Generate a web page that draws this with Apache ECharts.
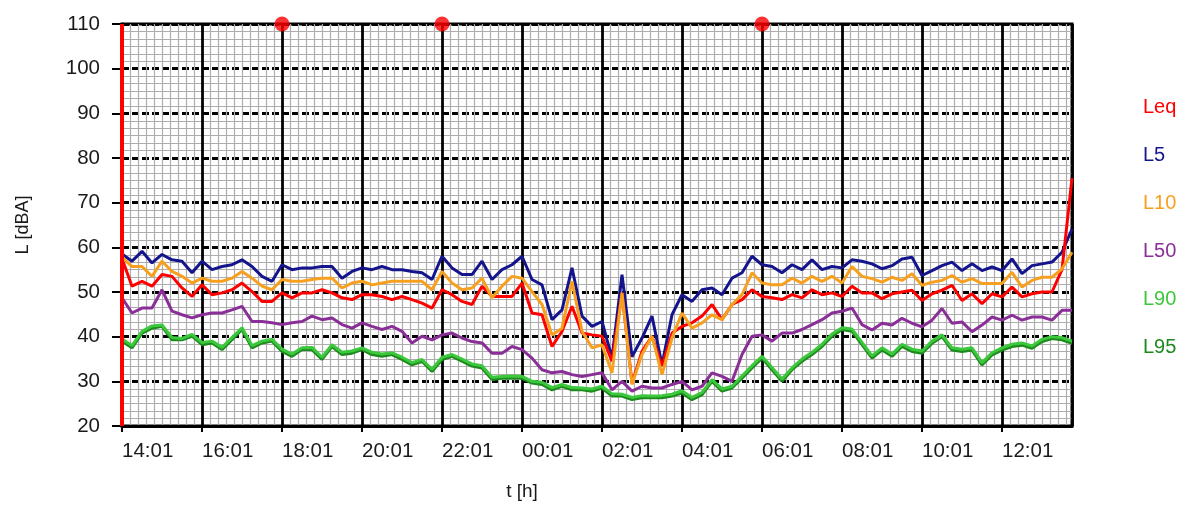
<!DOCTYPE html>
<html>
<head>
<meta charset="utf-8">
<script src="https://cdn.jsdelivr.net/npm/echarts@6/dist/echarts.min.js"></script>
<style>
html, body { margin: 0; padding: 0; background: #fff; }
#chart { width: 1187px; height: 506px; }
</style>
</head>
<body>
<div id="chart"></div>
<script>
// 15-minute samples, index 0 = 14:01
var timeLabels = ['14:01', '16:01', '18:01', '20:01', '22:01', '00:01', '02:01', '04:01', '06:01', '08:01', '10:01', '12:01'];
var yTicks = [20, 30, 40, 50, 60, 70, 80, 90, 100, 110];
var eventIdx = [16, 32, 64];

var leq = [57.5, 51.3, 52.4, 51.3, 53.9, 53.5, 50.9, 49.0, 51.6, 49.4, 49.8, 50.5, 52.0, 50.1, 47.9, 47.9, 49.8, 48.7, 49.8,
  49.8, 50.5, 49.8, 48.7, 48.3, 49.4, 49.4, 49.0, 48.3, 49.0, 48.3, 47.5, 46.4, 50.5, 49.4, 47.9, 47.2, 51.3, 49.0,
  49.0, 49.0, 52.0, 45.3, 44.9, 37.8, 41.2, 46.8, 40.8, 40.4, 40.1, 34.5, 49.8, 29.6, 36.7, 40.1, 33.4, 40.8, 42.3,
  43.1, 44.6, 47.2, 43.8, 47.2, 48.3, 50.5, 49.0, 48.7, 48.3, 49.4, 48.7, 50.5, 49.4, 49.8, 49.0, 51.3, 49.8,
  49.8, 48.5, 49.6, 50.0, 50.4, 48.1, 49.6, 50.4, 51.5, 48.1, 49.6, 47.4, 49.6, 48.9, 51.1, 48.9, 49.6, 50.0, 50.0, 55.0, 75.5];

var l5 = [58.5, 56.9, 59.1, 56.5, 58.4, 57.2, 56.9, 54.3, 56.9, 55.0, 55.7, 56.1, 57.2, 55.7, 53.5, 52.4, 56.1, 55.0, 55.4,
  55.4, 55.7, 55.7, 53.1, 54.6, 55.4, 55.0, 55.7, 55.0, 55.0, 54.6, 54.3, 52.8, 58.0, 55.4, 53.9, 53.9, 56.9, 52.8,
  55.0, 56.1, 58.0, 52.8, 51.6, 43.8, 46.0, 55.4, 44.6, 42.3, 43.4, 35.2, 53.9, 35.5, 39.7, 44.6, 33.7, 44.9, 49.4,
  47.9, 50.5, 50.9, 49.4, 53.1, 54.3, 58.0, 56.1, 55.7, 54.3, 56.1, 55.0, 57.2, 55.0, 55.7, 55.4, 57.2, 56.9,
  56.3, 55.2, 55.9, 57.4, 57.8, 53.7, 54.8, 55.9, 56.7, 54.8, 56.3, 54.8, 55.6, 54.8, 57.4, 54.1, 55.9, 56.3, 56.7, 58.9, 64.1];

var l10 = [57.8, 55.7, 55.7, 53.5, 56.9, 54.6, 53.5, 52.0, 53.1, 52.4, 52.4, 53.1, 54.6, 53.1, 51.3, 50.5, 52.8, 52.4, 52.4,
  52.8, 53.1, 53.1, 50.9, 52.0, 52.4, 51.6, 52.0, 52.4, 52.4, 52.4, 52.4, 50.5, 54.6, 52.0, 50.5, 50.9, 53.1, 48.7,
  51.3, 53.5, 53.1, 50.1, 47.2, 40.4, 41.9, 52.4, 41.2, 37.5, 38.2, 31.9, 49.8, 29.3, 36.0, 40.1, 31.5, 39.7, 45.3,
  41.9, 43.1, 44.9, 43.8, 47.2, 49.4, 54.3, 52.0, 51.6, 51.6, 53.1, 52.0, 53.5, 52.4, 53.5, 52.0, 55.7, 53.5,
  53.0, 52.2, 53.3, 52.6, 54.1, 51.5, 52.2, 52.6, 53.7, 52.2, 53.0, 51.9, 51.9, 51.9, 54.4, 51.1, 52.6, 53.3, 53.3, 55.2, 58.9];

var l50 = [48.7, 45.3, 46.4, 46.4, 50.5, 45.7, 44.9, 44.2, 44.9, 45.3, 45.3, 46.0, 46.8, 43.4, 43.4, 43.1, 42.7, 43.1, 43.4,
  44.6, 43.8, 44.2, 42.7, 41.9, 43.1, 42.3, 41.6, 42.3, 41.2, 38.6, 40.1, 39.3, 40.4, 40.8, 39.7, 38.9, 38.6, 36.3,
  36.3, 37.8, 37.1, 35.2, 32.6, 31.9, 32.2, 31.5, 31.1, 31.5, 31.9, 28.1, 30.0, 27.8, 28.9, 28.5, 28.5, 29.3, 30.0,
  28.1, 28.9, 31.9, 31.1, 30.0, 36.0, 40.1, 40.4, 39.0, 40.8, 40.8, 41.6, 42.7, 43.8, 45.3, 45.7, 46.4, 42.7,
  41.5, 43.0, 42.6, 44.1, 43.0, 42.2, 43.7, 46.3, 43.0, 43.3, 41.1, 42.6, 44.4, 43.7, 44.8, 43.7, 44.4, 44.4, 43.7, 45.9, 45.9];

var l90 = [39.5, 38.0, 41.2, 42.4, 42.6, 39.8, 39.6, 40.5, 38.7, 39.0, 37.6, 39.8, 42.0, 38.0, 39.0, 39.4, 37.2, 36.1, 37.5,
  37.6, 35.4, 38.2, 36.5, 36.8, 37.5, 36.5, 36.1, 36.4, 35.4, 34.2, 34.9, 32.7, 35.4, 36.0, 35.0, 33.9, 33.5, 30.9,
  31.1, 31.2, 31.1, 30.0, 29.8, 28.6, 29.3, 28.6, 28.5, 28.3, 28.9, 27.2, 27.1, 26.4, 26.8, 26.7, 26.8, 27.1, 27.9,
  26.4, 27.5, 30.4, 28.3, 28.9, 31.2, 33.5, 35.6, 33.1, 30.5, 33.0, 35.0, 36.5, 38.3, 40.6, 42.0, 41.7, 38.7,
  35.7, 37.5, 36.1, 38.3, 37.2, 36.8, 39.0, 40.4, 37.5, 37.2, 37.5, 34.2, 36.4, 37.5, 38.3, 38.6, 37.9, 39.4, 40.0, 39.8, 39.0];

var l95 = [39.0, 37.5, 40.8, 41.9, 42.3, 39.3, 39.3, 40.1, 38.2, 38.6, 37.1, 39.3, 41.6, 37.5, 38.6, 39.0, 36.7, 35.6, 37.1,
  37.1, 34.9, 37.8, 36.0, 36.3, 37.1, 36.0, 35.6, 36.0, 34.9, 33.7, 34.5, 32.2, 34.9, 35.6, 34.5, 33.4, 33.0, 30.4,
  30.7, 30.7, 30.7, 29.6, 29.3, 28.1, 28.9, 28.1, 28.1, 27.8, 28.5, 26.7, 26.7, 25.9, 26.3, 26.3, 26.3, 26.7, 27.4,
  25.9, 27.0, 30.0, 27.8, 28.5, 30.7, 33.0, 35.2, 32.6, 30.0, 32.6, 34.5, 36.0, 37.8, 40.1, 41.6, 41.2, 38.2,
  35.2, 37.0, 35.6, 37.8, 36.7, 36.3, 38.5, 40.0, 37.0, 36.7, 37.0, 33.7, 35.9, 37.0, 37.8, 38.1, 37.4, 38.9, 39.6, 39.3, 38.5];

var colors = {
  Leq: '#ff0000',
  L5: '#14148c',
  L10: '#f7a020',
  L50: '#8a2e98',
  L90: '#3cc83c',
  L95: '#1e8a1e'
};

var font = 'Liberation Sans, Arial, sans-serif';

function pts(arr) {
  return arr.map(function (v, i) { return [i, v]; });
}

function line(name, arr) {
  return {
    name: name,
    type: 'line',
    data: pts(arr),
    symbol: 'none',
    lineStyle: { color: colors[name], width: 3 },
    itemStyle: { color: colors[name] }
  };
}

var chart = echarts.init(document.getElementById('chart'));

var leqSeries = line('Leq', leq);
leqSeries.markLine = {
  silent: true,
  symbol: ['none', 'none'],
  label: { show: false },
  lineStyle: { color: '#ff0000', width: 4, type: 'solid' },
  data: [{ xAxis: 0 }]
};

var option = {
  animation: false,
  backgroundColor: '#fff',
  grid: {
    left: 122, right: 115, top: 24, bottom: 79,
    show: true, borderColor: '#000', borderWidth: 3, backgroundColor: '#fff'
  },
  legend: {
    orient: 'vertical',
    left: 1138,
    top: 97,
    padding: 0,
    itemGap: 28,
    itemWidth: 0,
    itemHeight: 20,
    icon: 'rect',
    selectedMode: false,
    textStyle: { fontSize: 20, fontFamily: font, lineHeight: 20 },
    data: ['Leq', 'L5', 'L10', 'L50', 'L90', 'L95'].map(function (n) {
      return { name: n, textStyle: { color: colors[n] }, itemStyle: { opacity: 0 } };
    })
  },
  xAxis: {
    type: 'value',
    min: 0,
    max: 95,
    interval: 8,
    name: 't [h]',
    nameLocation: 'middle',
    nameGap: 56,
    nameTextStyle: { fontSize: 19, fontFamily: font, color: '#1a1a1a', padding: [0, 150, 0, 0] },
    axisLine: { show: true, lineStyle: { color: '#000', width: 3 } },
    axisTick: { show: true, length: 6, lineStyle: { color: '#000', width: 2 } },
    axisLabel: {
      show: true, showMaxLabel: false, align: 'left', margin: 15,
      fontSize: 20.5, fontFamily: font, color: '#1a1a1a',
      formatter: function (v) { return timeLabels[v / 8] || ''; }
    },
    splitLine: { show: true, lineStyle: { color: '#000', width: 2.8 } },
    minorTick: { show: false, splitNumber: 10 },
    minorSplitLine: { show: true, lineStyle: { color: '#adadad', width: 1.2 } }
  },
  yAxis: {
    type: 'value',
    min: yTicks[0],
    max: yTicks[yTicks.length - 1],
    interval: 10,
    name: 'L [dBA]',
    nameLocation: 'middle',
    nameGap: 90,
    nameTextStyle: { fontSize: 18, fontFamily: font, color: '#1a1a1a' },
    axisLine: { show: true, lineStyle: { color: '#000', width: 3 } },
    axisTick: { show: true, length: 10, lineStyle: { color: '#000', width: 2 } },
    axisLabel: { margin: 22, fontSize: 20.5, fontFamily: font, color: '#1a1a1a' },
    splitLine: { show: true, lineStyle: { color: '#000', width: 2.8, type: [7, 3] } },
    minorTick: { show: false, splitNumber: 6 },
    minorSplitLine: { show: true, lineStyle: { color: '#adadad', width: 1.2 } }
  },
  series: [
    line('L95', l95),
    line('L90', l90),
    line('L50', l50),
    line('L5', l5),
    leqSeries,
    line('L10', l10),
    {
      name: 'events',
      type: 'scatter',
      clip: false,
      symbolSize: 15,
      itemStyle: { color: '#ff0000' },
      data: eventIdx.map(function (i) { return [i, yTicks[yTicks.length - 1]]; }),
      z: 10
    }
  ]
};

chart.setOption(option);
</script>
</body>
</html>
